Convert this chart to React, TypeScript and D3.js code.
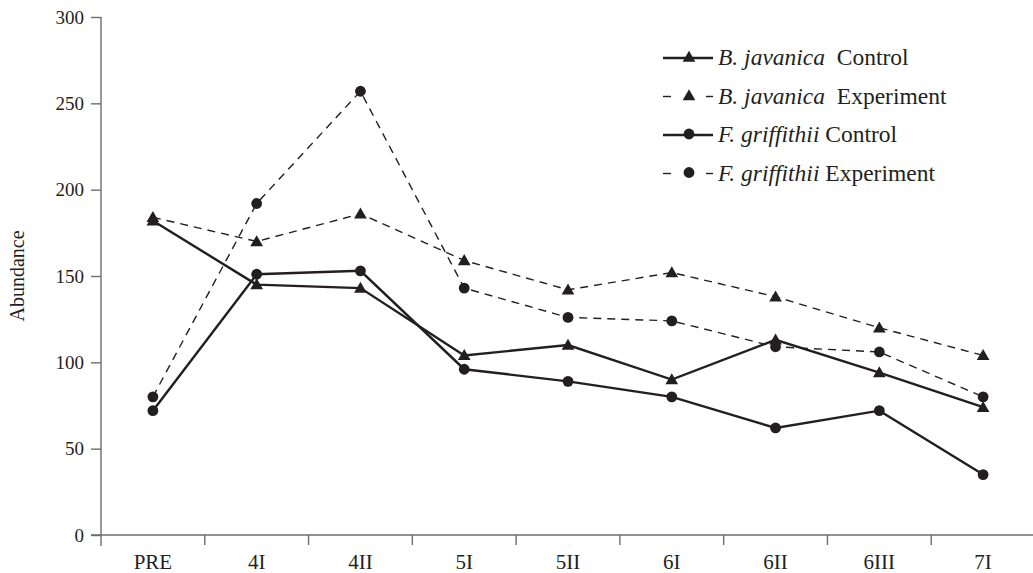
import React, { useEffect, useRef } from "react";
import * as d3 from "d3";

const categories = ["PRE", "4I", "4II", "5I", "5II", "6I", "6II", "6III", "7I"];
const yTicks = [0, 50, 100, 150, 200, 250, 300];

const bjControl = [182, 145, 143, 104, 110, 90, 113, 94, 74];
const bjExperiment = [184, 170, 186, 159, 142, 152, 138, 120, 104];
const fgControl = [72, 151, 153, 96, 89, 80, 62, 72, 35];
const fgExperiment = [80, 192, 257, 143, 126, 124, 109, 106, 80];

const seriesNames = [
  { italic: "B. javanica", rest: "  Control" },
  { italic: "B. javanica", rest: "  Experiment" },
  { italic: "F. griffithii", rest: " Control" },
  { italic: "F. griffithii", rest: " Experiment" },
];

const W = 1033;
const H = 573;
const INK = "#231f20";
const AXIS = "#6d6e70";
const FONT = "'Liberation Serif', 'DejaVu Serif', serif";

export default function App() {
  const ref = useRef<SVGSVGElement | null>(null);

  useEffect(() => {
    const svg = d3.select(ref.current);
    svg.selectAll("*").remove();

    const x = d3.scaleBand<string>().domain(categories).range([101, 1035]);
    const y = d3.scaleLinear().domain([0, 300]).range([535, 17]);
    const cx = (c: string) => (x(c) as number) + x.bandwidth() / 2;

    const series = [
      { values: bjControl, dashed: false, marker: "tri" },
      { values: bjExperiment, dashed: true, marker: "tri" },
      { values: fgControl, dashed: false, marker: "circ" },
      { values: fgExperiment, dashed: true, marker: "circ" },
    ];

    // Axes
    const yAxis = svg
      .append("g")
      .attr("transform", "translate(101,0)")
      .call(
        d3
          .axisLeft(y)
          .tickValues(yTicks)
          .tickSize(10)
          .tickPadding(7)
          .tickSizeOuter(0)
      );
    yAxis.select(".domain").remove();
    yAxis.selectAll("line").attr("stroke", AXIS).attr("stroke-width", 1.4);
    yAxis
      .selectAll("text")
      .attr("fill", INK)
      .style("font-family", FONT)
      .style("font-size", "19px");

    svg
      .append("line")
      .attr("x1", 101)
      .attr("x2", 101)
      .attr("y1", y(300))
      .attr("y2", 546)
      .attr("stroke", AXIS)
      .attr("stroke-width", 1.4);
    svg
      .append("line")
      .attr("x1", 91)
      .attr("x2", W)
      .attr("y1", y(0))
      .attr("y2", y(0))
      .attr("stroke", AXIS)
      .attr("stroke-width", 1.6);

    const xg = svg.append("g");
    xg.selectAll("line.tick")
      .data(categories.slice(1))
      .enter()
      .append("line")
      .attr("x1", (d) => x(d) as number)
      .attr("x2", (d) => x(d) as number)
      .attr("y1", y(0))
      .attr("y2", y(0) + 10)
      .attr("stroke", AXIS)
      .attr("stroke-width", 1.4);
    xg.selectAll("text")
      .data(categories)
      .enter()
      .append("text")
      .attr("x", (d) => cx(d))
      .attr("y", 569)
      .attr("text-anchor", "middle")
      .attr("fill", INK)
      .style("font-family", FONT)
      .style("font-size", "21px")
      .text((d) => d);

    svg
      .append("text")
      .attr("transform", `translate(24,${y(150)}) rotate(-90)`)
      .attr("text-anchor", "middle")
      .attr("fill", INK)
      .style("font-family", FONT)
      .style("font-size", "20px")
      .text("Abundance");

    const tri = d3.symbol().type(d3.symbolTriangle).size(70);
    const drawMarker = (
      g: d3.Selection<SVGGElement, unknown, null, undefined>,
      kind: string,
      px: number,
      py: number
    ) => {
      if (kind === "tri") {
        g.append("path")
          .attr("d", tri() as string)
          .attr("transform", `translate(${px},${py + 1})`)
          .attr("fill", INK);
      } else {
        g.append("circle").attr("cx", px).attr("cy", py).attr("r", 5.4).attr("fill", INK);
      }
    };

    const line = d3
      .line<number>()
      .x((_, i) => cx(categories[i]))
      .y((v) => y(v));

    series.forEach((s) => {
      const g = svg.append("g");
      g.append("path")
        .attr("d", line(s.values) as string)
        .attr("fill", "none")
        .attr("stroke", INK)
        .attr("stroke-width", s.dashed ? 1.4 : 2.4)
        .attr("stroke-dasharray", s.dashed ? "8,6" : null);
      s.values.forEach((v, i) => drawMarker(g, s.marker, cx(categories[i]), y(v)));
    });

    // Legend
    const lg = svg.append("g");
    series.forEach((s, i) => {
      const ly = 58 + i * 38.5;
      const row = lg.append("g");
      if (s.dashed) {
        row.append("line").attr("x1", 663).attr("x2", 671).attr("y1", ly).attr("y2", ly)
          .attr("stroke", INK).attr("stroke-width", 1.4);
        row.append("line").attr("x1", 706).attr("x2", 713).attr("y1", ly).attr("y2", ly)
          .attr("stroke", INK).attr("stroke-width", 1.4);
      } else {
        row.append("line").attr("x1", 663).attr("x2", 713).attr("y1", ly).attr("y2", ly)
          .attr("stroke", INK).attr("stroke-width", 2.4);
      }
      drawMarker(row as any, s.marker, 689, ly - 1);
      const t = row
        .append("text")
        .attr("x", 718)
        .attr("y", ly + 7)
        .attr("fill", INK)
        .style("font-family", FONT)
        .style("font-size", "23.5px")
        .style("white-space", "pre");
      t.append("tspan").style("font-style", "italic").text(seriesNames[i].italic);
      t.append("tspan").text(seriesNames[i].rest);
    });
  }, []);

  return (
    <svg
      ref={ref}
      width={W}
      height={H}
      style={{ position: "absolute", left: 0, top: 0, background: "#fff" }}
    />
  );
}
